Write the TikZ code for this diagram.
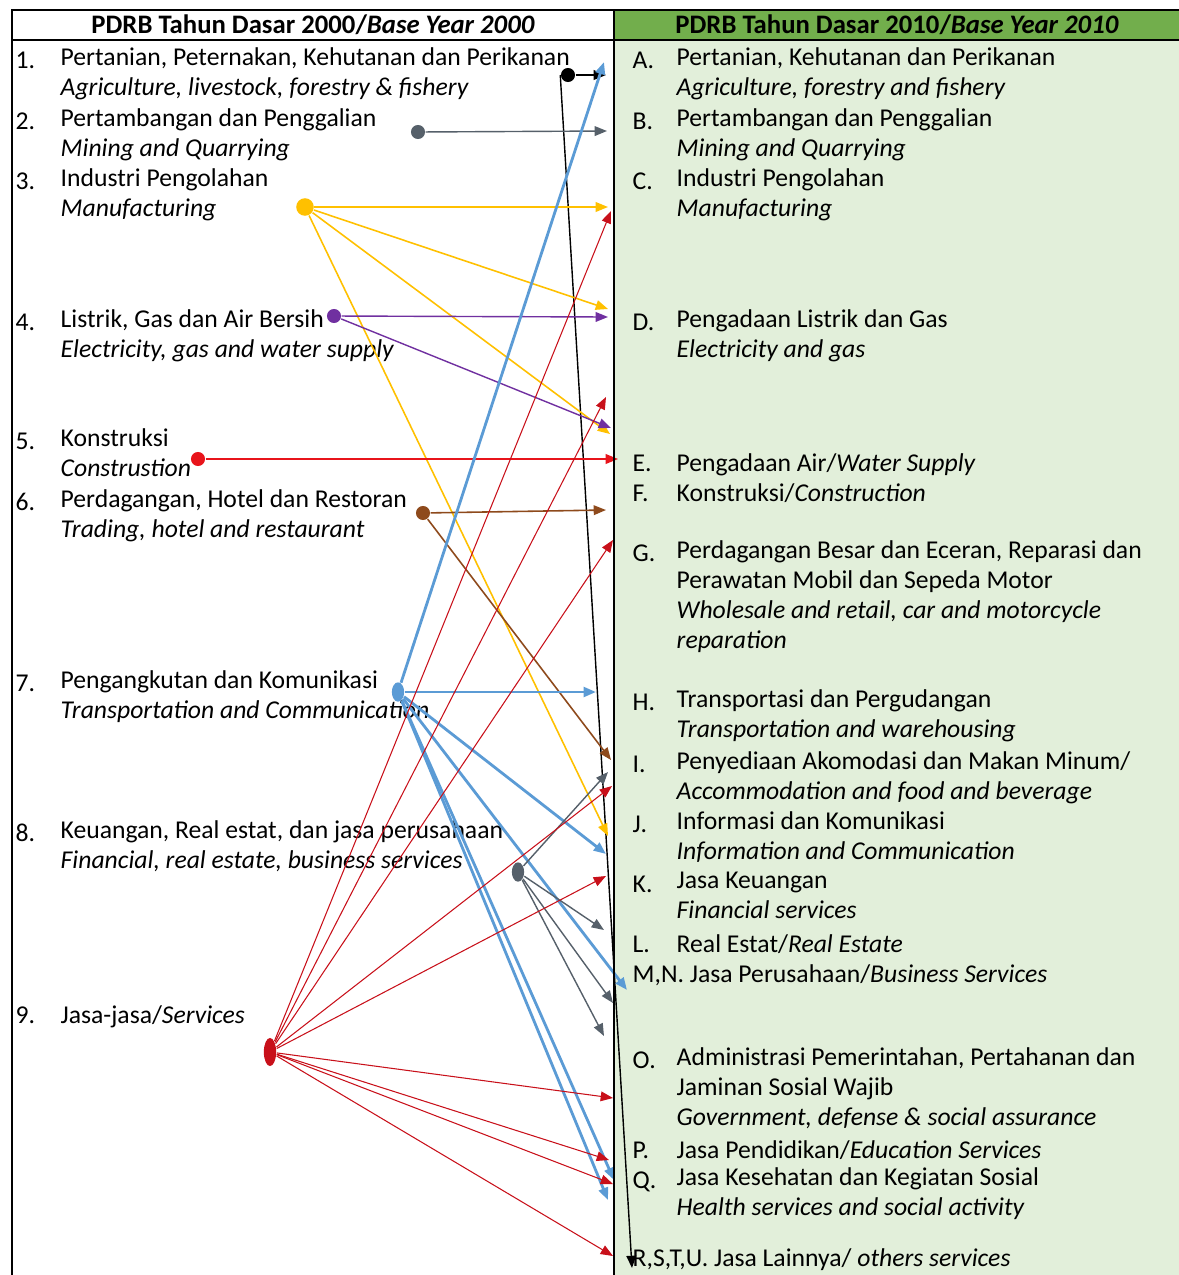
\documentclass[tikz,border=0pt]{standalone}
\usepackage{fontspec}
\setmainfont{Carlito}
\usetikzlibrary{arrows.meta,shapes.geometric}
\definecolor{hdgreen}{HTML}{72AE4C}
\definecolor{bggreen}{HTML}{E2EFDA}
\definecolor{cyel}{HTML}{FFC000}
\definecolor{cpur}{HTML}{7030A0}
\definecolor{cred}{HTML}{E8141B}
\definecolor{cdred}{HTML}{C8101A}
\definecolor{cbrn}{HTML}{8E4A1C}
\definecolor{cblu}{HTML}{5B9BD5}
\definecolor{cgry}{HTML}{56606A}

\begin{document}
\begin{tikzpicture}[x=0.02cm,y=-0.02cm,line width=0.8pt,>={Triangle[length=7pt,width=5.5pt]},
dot/.style={circle,inner sep=0pt,minimum size=8pt},
blob/.style={ellipse,inner sep=0pt,minimum width=7pt,minimum height=11pt},
num/.style={anchor=north west,inner sep=0pt,font=\fontsize{14.6}{17}\selectfont,execute at begin node=\strut},
itm/.style={anchor=north west,inner sep=0pt,align=left,font=\fontsize{14.6}{17}\selectfont,execute at begin node=\strut},
hd/.style={inner sep=0pt,font=\fontsize{15.2}{17}\selectfont\bfseries}]
\useasboundingbox (0,0) rectangle (1179,1275);
\fill[bggreen] (614,40) rectangle (1179,1275);
\fill[hdgreen] (614,10) rectangle (1179,40);
\node[hd] (h1) at (313,25) {PDRB Tahun Dasar 2000/\textit{Base Year 2000}};
\node[hd] (h2) at (897,25) {PDRB Tahun Dasar 2010/\textit{Base Year 2010}};
\foreach \k/\y in {1/47,2/108,3/168,4/309,5/428,6/489,7/670,8/820,9/1002}{\node[num] (n\k) at (15,\y) {\k.};};
\foreach \k/\y in {A/47,B/108,C/168,D/309,E/450,F/480,G/540,H/689,I/751,J/811,K/871,L/931,O/1047,P/1137,Q/1167}{\node[num] (n\k) at (632,\y) {\k.};};
\node[itm] (l1) at (60,47) {Pertanian, Peternakan, Kehutanan dan Perikanan\\\textit{Agriculture, livestock, forestry \& fishery}};
\node[itm] (l2) at (60,108) {Pertambangan dan Penggalian\\\textit{Mining and Quarrying}};
\node[itm] (l3) at (60,168) {Industri Pengolahan\\\textit{Manufacturing}};
\node[itm] (l4) at (60,309) {Listrik, Gas dan Air Bersih\\\textit{Electricity, gas and water supply}};
\node[itm] (l5) at (60,428) {Konstruksi\\\textit{Construstion}};
\node[itm] (l6) at (60,489) {Perdagangan, Hotel dan Restoran\\\textit{Trading, hotel and restaurant}};
\node[itm] (l7) at (60,670) {Pengangkutan dan Komunikasi\\\textit{Transportation and Communication}};
\node[itm] (l8) at (60,820) {Keuangan, Real estat, dan jasa perusahaan\\\textit{Financial, real estate, business services}};
\node[itm] (l9) at (60,1002) {Jasa-jasa/\textit{Services}};
\node[itm] (rA) at (676,47) {Pertanian, Kehutanan dan Perikanan\\\textit{Agriculture, forestry and fishery}};
\node[itm] (rB) at (676,108) {Pertambangan dan Penggalian\\\textit{Mining and Quarrying}};
\node[itm] (rC) at (676,168) {Industri Pengolahan\\\textit{Manufacturing}};
\node[itm] (rD) at (676,309) {Pengadaan Listrik dan Gas\\\textit{Electricity and gas}};
\node[itm] (rE) at (676,450) {Pengadaan Air/\textit{Water Supply}};
\node[itm] (rF) at (676,480) {Konstruksi/\textit{Construction}};
\node[itm] (rG) at (676,540) {Perdagangan Besar dan Eceran, Reparasi dan\\Perawatan Mobil dan Sepeda Motor\\\textit{Wholesale and retail, car and motorcycle}\\\textit{reparation}};
\node[itm] (rH) at (676,689) {Transportasi dan Pergudangan\\\textit{Transportation and warehousing}};
\node[itm] (rI) at (676,751) {Penyediaan Akomodasi dan Makan Minum/\\\textit{Accommodation and food and beverage}};
\node[itm] (rJ) at (676,811) {Informasi dan Komunikasi\\\textit{Information and Communication}};
\node[itm] (rK) at (676,871) {Jasa Keuangan\\\textit{Financial services}};
\node[itm] (rL) at (676,931) {Real Estat/\textit{Real Estate}};
\node[itm] (rMN) at (632,961) {M,N. Jasa Perusahaan/\textit{Business Services}};
\node[itm] (rO) at (676,1047) {Administrasi Pemerintahan, Pertahanan dan\\Jaminan Sosial Wajib\\\textit{Government, defense \& social assurance}};
\node[itm] (rP) at (676,1137) {Jasa Pendidikan/\textit{Education Services}};
\node[itm] (rQ) at (676,1167) {Jasa Kesehatan dan Kegiatan Sosial\\\textit{Health services and social activity}};
\node[itm] (rRSTU) at (632,1245) {R,S,T,U. Jasa Lainnya/\textit{ others services}};
\node[dot,fill=black] (s1) at (568,75) {};
\node[dot,fill=cgry] (s2) at (418,132) {};
\node[dot,fill=cyel,minimum size=10pt] (s3) at (305,207) {};
\node[dot,fill=cpur] (s4) at (334,316) {};
\node[dot,fill=cred] (s5) at (198,459) {};
\node[dot,fill=cbrn] (s6) at (423,513) {};
\node[blob,fill=cblu] (s7) at (398,692) {};
\node[blob,fill=cgry] (s8) at (518,872) {};
\node[blob,fill=cdred,minimum height=16pt] (s9) at (270,1052) {};
\foreach \n/\x/\y in {k1/606/75,k2/632/1268,g2/607/131,y1/608/207,y2/608/309,y3/610/434,y4/608/836,p1/608/317,p2/611/428,r5/618/459,b1/606/510,b2/611/760,u1/604/62,u2/596/692,u3/606/854,u4/627/990,u5/614/1180,u6/608/1200,d1/608/772,d2/604/930,d3/613/1003,d4/604/1036,m1/611/211,m2/606/397,m3/613/540,m4/612/786,m5/606/876,m6/613/1098,m7/609/1160,m8/613/1184,m9/613/1256}{\coordinate (\n) at (\x,\y);};
\draw[->] (s1) -- (k1);
\draw[->] (s1.west) -- (k2);
\draw[->,cgry] (s2) -- (g2);
\foreach \t in {y1,y2,y3,y4}{\draw[->,cyel,line width=0.9pt] (s3) -- (\t);};
\foreach \t in {p1,p2}{\draw[->,cpur] (s4) -- (\t);};
\draw[->,cred,line width=0.9pt] (s5) -- (r5);
\foreach \t in {b1,b2}{\draw[->,cbrn,line width=0.9pt] (s6) -- (\t);};
\foreach \t in {u1,u2,u3,u4,u5,u6}{\draw[->,cblu,line width=1.6pt] (s7) -- (\t);};
\foreach \t in {d1,d2,d3,d4}{\draw[->,cgry] (s8) -- (\t);};
\foreach \t in {m1,m2,m3,m4,m5,m6,m7,m8,m9}{\draw[->,cdred,line width=0.6pt] (s9) -- (\t);};
\draw[line width=1pt] (12,1275) -- (12,10) -- (1179,10);
\draw[line width=1pt] (12,40) -- (1179,40);
\draw[line width=1pt] (614,10) -- (614,1275);
\end{tikzpicture}
\end{document}
